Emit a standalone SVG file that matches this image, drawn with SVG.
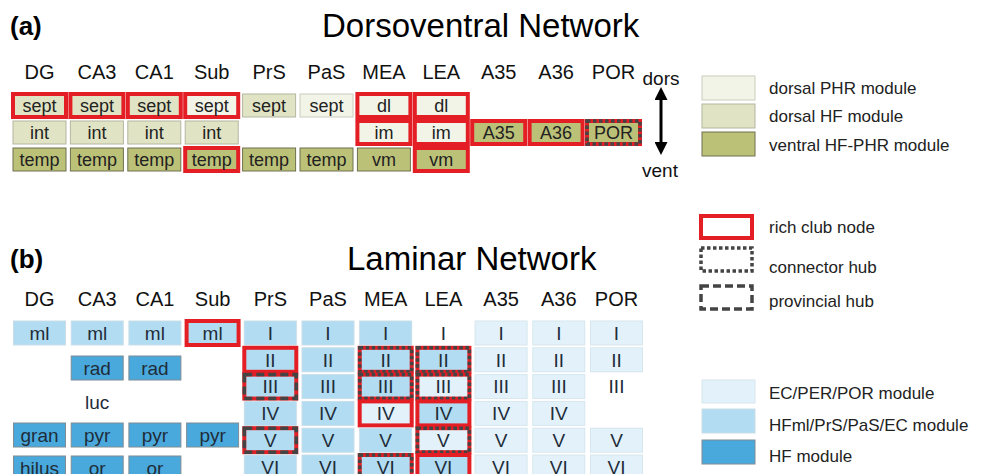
<svg xmlns="http://www.w3.org/2000/svg" width="981" height="474" viewBox="0 0 981 474">
<style>
text{font-family:"Liberation Sans",Arial,sans-serif}
.ttl{font-size:33px;fill:#000}
.lbl{font-size:26px;font-weight:bold;fill:#000}
.hdr{font-size:20px;fill:#111;text-anchor:middle}
.ca{font-size:18px;fill:#222;text-anchor:middle}
.cb{font-size:19px;fill:#1f2d3a;text-anchor:middle}
.lg{font-size:17px;fill:#222}
.dphr{fill:#f3f4e8;stroke:#cbccbc;stroke-width:1}
.dhf{fill:#e1e4c4;stroke:#b4b6a0;stroke-width:1}
.vent{fill:#bcc178;stroke:#6e7050;stroke-width:1}
.ec{fill:#e3f2fa;stroke:#d6e6ee;stroke-width:1}
.hfml{fill:#b2dcf1;stroke:#c9dde8;stroke-width:1}
.hf{fill:#4aa9dc;stroke:#7f8c94;stroke-width:1}
.rc{fill:none;stroke:#e31e25;stroke-width:4}
.ch{fill:none;stroke:#444;stroke-width:3.5;stroke-dasharray:3.5 2.5}
.ph{fill:none;stroke:#444;stroke-width:3.5;stroke-dasharray:8 4}
</style>
<defs>
<marker id="ah" viewBox="0 0 10 10" refX="0" refY="5" markerUnits="userSpaceOnUse" markerWidth="13" markerHeight="13" orient="auto-start-reverse"><path d="M0,0 L10,5 L0,10 z" fill="#000"/></marker>
</defs>
<rect width="981" height="474" fill="#fff"/>

<!-- (a) titles -->
<text class="lbl" x="10" y="35">(a)</text>
<text class="ttl" x="322" y="37">Dorsoventral Network</text>
<g id="headers-a">
<text class="hdr" x="39.5" y="79">DG</text>
<text class="hdr" x="96.9" y="79">CA3</text>
<text class="hdr" x="154.3" y="79">CA1</text>
<text class="hdr" x="211.7" y="79">Sub</text>
<text class="hdr" x="269.1" y="79">PrS</text>
<text class="hdr" x="326.5" y="79">PaS</text>
<text class="hdr" x="383.9" y="79">MEA</text>
<text class="hdr" x="441.3" y="79">LEA</text>
<text class="hdr" x="498.7" y="79">A35</text>
<text class="hdr" x="556.1" y="79">A36</text>
<text class="hdr" x="613.5" y="79">POR</text>
</g>

<!-- (a) nodes -->
<g id="a-DG-sept"><rect class="dhf" x="13" y="94" width="53" height="23"/><rect class="rc" x="13" y="94" width="53" height="23"/><text class="ca" x="39.5" y="111.5">sept</text></g>
<g id="a-DG-int"><rect class="dhf" x="13" y="121" width="53" height="23"/><text class="ca" x="39.5" y="138.5">int</text></g>
<g id="a-DG-temp"><rect class="vent" x="13" y="148" width="53" height="23"/><text class="ca" x="39.5" y="165.5">temp</text></g>

<g id="a-CA3-sept"><rect class="dhf" x="70.4" y="94" width="53" height="23"/><rect class="rc" x="70.4" y="94" width="53" height="23"/><text class="ca" x="96.9" y="111.5">sept</text></g>
<g id="a-CA3-int"><rect class="dhf" x="70.4" y="121" width="53" height="23"/><text class="ca" x="96.9" y="138.5">int</text></g>
<g id="a-CA3-temp"><rect class="vent" x="70.4" y="148" width="53" height="23"/><text class="ca" x="96.9" y="165.5">temp</text></g>

<g id="a-CA1-sept"><rect class="dhf" x="127.8" y="94" width="53" height="23"/><rect class="rc" x="127.8" y="94" width="53" height="23"/><text class="ca" x="154.3" y="111.5">sept</text></g>
<g id="a-CA1-int"><rect class="dhf" x="127.8" y="121" width="53" height="23"/><text class="ca" x="154.3" y="138.5">int</text></g>
<g id="a-CA1-temp"><rect class="vent" x="127.8" y="148" width="53" height="23"/><text class="ca" x="154.3" y="165.5">temp</text></g>

<g id="a-Sub-sept"><rect class="dphr" x="185.2" y="94" width="53" height="23"/><rect class="rc" x="185.2" y="94" width="53" height="23"/><text class="ca" x="211.7" y="111.5">sept</text></g>
<g id="a-Sub-int"><rect class="dhf" x="185.2" y="121" width="53" height="23"/><text class="ca" x="211.7" y="138.5">int</text></g>
<g id="a-Sub-temp"><rect class="vent" x="185.2" y="148" width="53" height="23"/><rect class="rc" x="185.2" y="148" width="53" height="23"/><text class="ca" x="211.7" y="165.5">temp</text></g>

<g id="a-PrS-sept"><rect class="dhf" x="242.6" y="94" width="53" height="23"/><text class="ca" x="269.1" y="111.5">sept</text></g>
<g id="a-PrS-temp"><rect class="vent" x="242.6" y="148" width="53" height="23"/><text class="ca" x="269.1" y="165.5">temp</text></g>

<g id="a-PaS-sept"><rect class="dphr" x="300" y="94" width="53" height="23"/><text class="ca" x="326.5" y="111.5">sept</text></g>
<g id="a-PaS-temp"><rect class="vent" x="300" y="148" width="53" height="23"/><text class="ca" x="326.5" y="165.5">temp</text></g>

<g id="a-MEA-dl"><rect class="dphr" x="357.4" y="94" width="53" height="23"/><rect class="rc" x="357.4" y="94" width="53" height="23"/><text class="ca" x="383.9" y="111.5">dl</text></g>
<g id="a-MEA-im"><rect class="dphr" x="357.4" y="121" width="53" height="23"/><rect class="rc" x="357.4" y="121" width="53" height="23"/><text class="ca" x="383.9" y="138.5">im</text></g>
<g id="a-MEA-vm"><rect class="vent" x="357.4" y="148" width="53" height="23"/><text class="ca" x="383.9" y="165.5">vm</text></g>

<g id="a-LEA-dl"><rect class="dphr" x="414.8" y="94" width="53" height="23"/><rect class="rc" x="414.8" y="94" width="53" height="23"/><text class="ca" x="441.3" y="111.5">dl</text></g>
<g id="a-LEA-im"><rect class="dphr" x="414.8" y="121" width="53" height="23"/><rect class="rc" x="414.8" y="121" width="53" height="23"/><text class="ca" x="441.3" y="138.5">im</text></g>
<g id="a-LEA-vm"><rect class="vent" x="414.8" y="148" width="53" height="23"/><rect class="rc" x="414.8" y="148" width="53" height="23"/><text class="ca" x="441.3" y="165.5">vm</text></g>

<g id="a-A35"><rect class="vent" x="472.2" y="121" width="53" height="23"/><rect class="rc" x="472.2" y="121" width="53" height="23"/><text class="ca" x="498.7" y="138.5">A35</text></g>
<g id="a-A36"><rect class="vent" x="529.6" y="121" width="53" height="23"/><rect class="rc" x="529.6" y="121" width="53" height="23"/><text class="ca" x="556.1" y="138.5">A36</text></g>
<g id="a-POR"><rect class="vent" x="587" y="121" width="53" height="23"/><rect class="rc" x="587" y="121" width="53" height="23"/><rect class="ch" x="587" y="121" width="53" height="23"/><text class="ca" x="613.5" y="138.5">POR</text></g>

<!-- connectors: dorsoventral axis -->
<g id="connectors">
<line x1="661" y1="100" x2="661" y2="142" stroke="#000" stroke-width="3" marker-start="url(#ah)" marker-end="url(#ah)"/>
</g>
<text class="hdr" x="661" y="85" style="font-size:19px">dors</text>
<text class="hdr" x="660" y="177" style="font-size:19px">vent</text>

<!-- legend (a) -->
<g id="legend-a">
<rect class="dphr" x="702" y="76" width="53" height="24"/><text class="lg" x="769" y="94">dorsal PHR module</text>
<rect class="dhf" x="702" y="104" width="53" height="24"/><text class="lg" x="769" y="122">dorsal HF module</text>
<rect class="vent" x="702" y="132" width="53" height="24"/><text class="lg" x="769" y="151">ventral HF-PHR module</text>
</g>

<!-- legend hubs -->
<g id="legend-hubs">
<rect x="701" y="216" width="51" height="22" fill="#fff" class="rc"/><text class="lg" x="769" y="233">rich club node</text>
<rect class="ch" x="701" y="248" width="51" height="23"/><text class="lg" x="769" y="273">connector hub</text>
<rect class="ph" x="701" y="286" width="51" height="23"/><text class="lg" x="769" y="307">provincial hub</text>
</g>

<!-- legend (b) -->
<g id="legend-b">
<rect class="ec" x="702" y="380" width="53" height="23"/><text class="lg" x="769" y="399">EC/PER/POR module</text>
<rect class="hfml" x="702" y="409" width="53" height="24"/><text class="lg" x="769" y="431">HFml/PrS/PaS/EC module</text>
<rect class="hf" x="702" y="440" width="53" height="24"/><text class="lg" x="769" y="462">HF module</text>
</g>

<!-- (b) titles -->
<text class="lbl" x="10" y="268">(b)</text>
<text class="ttl" x="347" y="270">Laminar Network</text>
<g id="headers-b">
<text class="hdr" x="39.5" y="306">DG</text>
<text class="hdr" x="97.2" y="306">CA3</text>
<text class="hdr" x="154.9" y="306">CA1</text>
<text class="hdr" x="212.6" y="306">Sub</text>
<text class="hdr" x="270.3" y="306">PrS</text>
<text class="hdr" x="328" y="306">PaS</text>
<text class="hdr" x="385.7" y="306">MEA</text>
<text class="hdr" x="443.4" y="306">LEA</text>
<text class="hdr" x="501.1" y="306">A35</text>
<text class="hdr" x="558.8" y="306">A36</text>
<text class="hdr" x="616.5" y="306">POR</text>
</g>

<!-- (b) HF columns -->
<g id="b-DG-ml"><rect class="hfml" x="13.5" y="321" width="52" height="24"/><text class="cb" x="39.5" y="339.5">ml</text></g>
<g id="b-DG-gran"><rect class="hf" x="13.5" y="423" width="52" height="24"/><text class="cb" x="39.5" y="441.5">gran</text></g>
<g id="b-DG-hilus"><rect class="hf" x="13.5" y="456" width="52" height="24"/><text class="cb" x="39.5" y="474.5">hilus</text></g>

<g id="b-CA3-ml"><rect class="hfml" x="71.2" y="321" width="52" height="24"/><text class="cb" x="97.2" y="339.5">ml</text></g>
<g id="b-CA3-rad"><rect class="hf" x="71.2" y="356" width="52" height="24"/><text class="cb" x="97.2" y="374.5">rad</text></g>
<g id="b-CA3-luc"><text class="cb" x="97.2" y="409">luc</text></g>
<g id="b-CA3-pyr"><rect class="hf" x="71.2" y="423" width="52" height="24"/><text class="cb" x="97.2" y="441.5">pyr</text></g>
<g id="b-CA3-or"><rect class="hf" x="71.2" y="456" width="52" height="24"/><text class="cb" x="97.2" y="474.5">or</text></g>

<g id="b-CA1-ml"><rect class="hfml" x="128.9" y="321" width="52" height="24"/><text class="cb" x="154.9" y="339.5">ml</text></g>
<g id="b-CA1-rad"><rect class="hf" x="128.9" y="356" width="52" height="24"/><text class="cb" x="154.9" y="374.5">rad</text></g>
<g id="b-CA1-pyr"><rect class="hf" x="128.9" y="423" width="52" height="24"/><text class="cb" x="154.9" y="441.5">pyr</text></g>
<g id="b-CA1-or"><rect class="hf" x="128.9" y="456" width="52" height="24"/><text class="cb" x="154.9" y="474.5">or</text></g>

<g id="b-Sub-ml"><rect class="hfml" x="186.6" y="321" width="52" height="24"/><rect class="rc" x="186.6" y="321" width="52" height="24"/><text class="cb" x="212.6" y="339.5">ml</text></g>
<g id="b-Sub-pyr"><rect class="hf" x="186.6" y="423" width="52" height="24"/><text class="cb" x="212.6" y="441.5">pyr</text></g>

<!-- PrS -->
<g id="b-PrS-I"><rect class="hfml" x="244.3" y="321" width="52" height="24"/><text class="cb" x="270.3" y="339.7">I</text></g>
<g id="b-PrS-II"><rect class="hfml" x="244.3" y="347.8" width="52" height="24"/><rect class="rc" x="244.3" y="347.8" width="52" height="24"/><text class="cb" x="270.3" y="366.5">II</text></g>
<g id="b-PrS-III"><rect class="hfml" x="244.3" y="374.6" width="52" height="24"/><rect class="rc" x="244.3" y="374.6" width="52" height="24"/><rect class="ph" x="244.3" y="374.6" width="52" height="24"/><text class="cb" x="270.3" y="393.3">III</text></g>
<g id="b-PrS-IV"><rect class="hfml" x="244.3" y="401.4" width="52" height="24"/><text class="cb" x="270.3" y="420.1">IV</text></g>
<g id="b-PrS-V"><rect class="hfml" x="244.3" y="428.2" width="52" height="24"/><rect class="rc" x="244.3" y="428.2" width="52" height="24"/><rect class="ph" x="244.3" y="428.2" width="52" height="24"/><text class="cb" x="270.3" y="446.9">V</text></g>
<g id="b-PrS-VI"><rect class="hfml" x="244.3" y="455" width="52" height="24"/><text class="cb" x="270.3" y="473.7">VI</text></g>

<!-- PaS -->
<g id="b-PaS-I"><rect class="hfml" x="302" y="321" width="52" height="24"/><text class="cb" x="328" y="339.7">I</text></g>
<g id="b-PaS-II"><rect class="hfml" x="302" y="347.8" width="52" height="24"/><text class="cb" x="328" y="366.5">II</text></g>
<g id="b-PaS-III"><rect class="hfml" x="302" y="374.6" width="52" height="24"/><text class="cb" x="328" y="393.3">III</text></g>
<g id="b-PaS-IV"><rect class="hfml" x="302" y="401.4" width="52" height="24"/><text class="cb" x="328" y="420.1">IV</text></g>
<g id="b-PaS-V"><rect class="hfml" x="302" y="428.2" width="52" height="24"/><text class="cb" x="328" y="446.9">V</text></g>
<g id="b-PaS-VI"><rect class="hfml" x="302" y="455" width="52" height="24"/><text class="cb" x="328" y="473.7">VI</text></g>

<!-- MEA -->
<g id="b-MEA-I"><rect class="hfml" x="359.7" y="321" width="52" height="24"/><text class="cb" x="385.7" y="339.7">I</text></g>
<g id="b-MEA-II"><rect class="hfml" x="359.7" y="347.8" width="52" height="24"/><rect class="rc" x="359.7" y="347.8" width="52" height="24"/><rect class="ch" x="359.7" y="347.8" width="52" height="24"/><text class="cb" x="385.7" y="366.5">II</text></g>
<g id="b-MEA-III"><rect class="hfml" x="359.7" y="374.6" width="52" height="24"/><rect class="rc" x="359.7" y="374.6" width="52" height="24"/><rect class="ch" x="359.7" y="374.6" width="52" height="24"/><text class="cb" x="385.7" y="393.3">III</text></g>
<g id="b-MEA-IV"><rect class="ec" x="359.7" y="401.4" width="52" height="24"/><rect class="rc" x="359.7" y="401.4" width="52" height="24"/><text class="cb" x="385.7" y="420.1">IV</text></g>
<g id="b-MEA-V"><rect class="hfml" x="359.7" y="428.2" width="52" height="24"/><text class="cb" x="385.7" y="446.9">V</text></g>
<g id="b-MEA-VI"><rect class="hfml" x="359.7" y="455" width="52" height="24"/><rect class="rc" x="359.7" y="455" width="52" height="24"/><rect class="ch" x="359.7" y="455" width="52" height="24"/><text class="cb" x="385.7" y="473.7">VI</text></g>

<!-- LEA -->
<g id="b-LEA-I"><text class="cb" x="443.4" y="339.7">I</text></g>
<g id="b-LEA-II"><rect class="hfml" x="417.4" y="347.8" width="52" height="24"/><rect class="rc" x="417.4" y="347.8" width="52" height="24"/><rect class="ch" x="417.4" y="347.8" width="52" height="24"/><text class="cb" x="443.4" y="366.5">II</text></g>
<g id="b-LEA-III"><rect class="ec" x="417.4" y="374.6" width="52" height="24"/><rect class="rc" x="417.4" y="374.6" width="52" height="24"/><rect class="ch" x="417.4" y="374.6" width="52" height="24"/><text class="cb" x="443.4" y="393.3">III</text></g>
<g id="b-LEA-IV"><rect class="hfml" x="417.4" y="401.4" width="52" height="24"/><rect class="rc" x="417.4" y="401.4" width="52" height="24"/><text class="cb" x="443.4" y="420.1">IV</text></g>
<g id="b-LEA-V"><rect class="ec" x="417.4" y="428.2" width="52" height="24"/><rect class="rc" x="417.4" y="428.2" width="52" height="24"/><rect class="ch" x="417.4" y="428.2" width="52" height="24"/><text class="cb" x="443.4" y="446.9">V</text></g>
<g id="b-LEA-VI"><rect class="hfml" x="417.4" y="455" width="52" height="24"/><rect class="rc" x="417.4" y="455" width="52" height="24"/><text class="cb" x="443.4" y="473.7">VI</text></g>

<!-- A35 -->
<g id="b-A35-I"><rect class="ec" x="475.1" y="321" width="52" height="24"/><text class="cb" x="501.1" y="339.7">I</text></g>
<g id="b-A35-II"><rect class="ec" x="475.1" y="347.8" width="52" height="24"/><text class="cb" x="501.1" y="366.5">II</text></g>
<g id="b-A35-III"><rect class="ec" x="475.1" y="374.6" width="52" height="24"/><text class="cb" x="501.1" y="393.3">III</text></g>
<g id="b-A35-IV"><rect class="ec" x="475.1" y="401.4" width="52" height="24"/><text class="cb" x="501.1" y="420.1">IV</text></g>
<g id="b-A35-V"><rect class="ec" x="475.1" y="428.2" width="52" height="24"/><text class="cb" x="501.1" y="446.9">V</text></g>
<g id="b-A35-VI"><rect class="ec" x="475.1" y="455" width="52" height="24"/><text class="cb" x="501.1" y="473.7">VI</text></g>

<!-- A36 -->
<g id="b-A36-I"><rect class="ec" x="532.8" y="321" width="52" height="24"/><text class="cb" x="558.8" y="339.7">I</text></g>
<g id="b-A36-II"><rect class="ec" x="532.8" y="347.8" width="52" height="24"/><text class="cb" x="558.8" y="366.5">II</text></g>
<g id="b-A36-III"><rect class="ec" x="532.8" y="374.6" width="52" height="24"/><text class="cb" x="558.8" y="393.3">III</text></g>
<g id="b-A36-IV"><rect class="ec" x="532.8" y="401.4" width="52" height="24"/><text class="cb" x="558.8" y="420.1">IV</text></g>
<g id="b-A36-V"><rect class="ec" x="532.8" y="428.2" width="52" height="24"/><text class="cb" x="558.8" y="446.9">V</text></g>
<g id="b-A36-VI"><rect class="ec" x="532.8" y="455" width="52" height="24"/><text class="cb" x="558.8" y="473.7">VI</text></g>

<!-- POR -->
<g id="b-POR-I"><rect class="ec" x="590.5" y="321" width="52" height="24"/><text class="cb" x="616.5" y="339.7">I</text></g>
<g id="b-POR-II"><rect class="ec" x="590.5" y="347.8" width="52" height="24"/><text class="cb" x="616.5" y="366.5">II</text></g>
<g id="b-POR-III"><text class="cb" x="616.5" y="393.3">III</text></g>
<g id="b-POR-V"><rect class="ec" x="590.5" y="428.2" width="52" height="24"/><text class="cb" x="616.5" y="446.9">V</text></g>
<g id="b-POR-VI"><rect class="ec" x="590.5" y="455" width="52" height="24"/><text class="cb" x="616.5" y="473.7">VI</text></g>
</svg>
